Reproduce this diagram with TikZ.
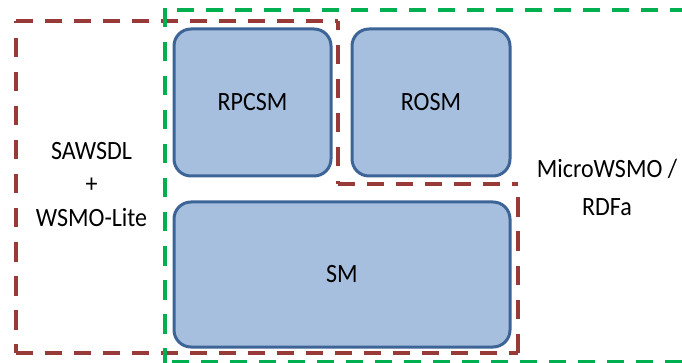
\documentclass[tikz,border=0pt]{standalone}
\usepackage{fontspec}
\setmainfont{Carlito}
\usepackage{graphicx}

\definecolor{boxfill}{HTML}{A7BFDE}
\definecolor{boxline}{HTML}{3D6496}
\definecolor{regred}{HTML}{983A38}
\definecolor{reggreen}{HTML}{00B050}

\tikzset{
  model/.style={draw=boxline, fill=boxfill, line width=3pt, rounded corners=17pt,
    inner sep=0pt, font=\fontsize{24}{28}\selectfont},
  hseg/.style={line width=4pt, dash pattern=on 17pt off 12pt},
  vseg/.style={line width=4pt, dash pattern=on 19.5pt off 14.5pt},
  sawsdl/.style={hseg, draw=regred},
  sawsdlv/.style={vseg, draw=regred},
  micro/.style={hseg, draw=reggreen},
  microv/.style={vseg, draw=reggreen},
  caption/.style={inner sep=0pt, align=center},
}

\begin{document}
\begin{tikzpicture}[x=1pt, y=-1pt]
\useasboundingbox (0,0) rectangle (682,363);

% service models
\node[model, minimum width=157pt, minimum height=147pt] (rpcsm) at (252.5,102.5)
  {\scalebox{1}[1.1]{RPCSM}};
\node[model, minimum width=158pt, minimum height=147pt] (rosm) at (431,102.5)
  {\scalebox{1}[1.1]{ROSM}};
\node[model, minimum width=336pt, minimum height=145pt] (sm) at (342,274.5)
  {\scalebox{1}[1.1]{SM}};

% corners of the SAWSDL + WSMO-Lite region
\coordinate (rA) at (16,21);
\coordinate (rB) at (338,21);
\coordinate (rC) at (338,184);
\coordinate (rD) at (518,184);
\coordinate (rE) at (518,353);
\coordinate (rF) at (16,353);

\draw[sawsdl]  (rA) -- (rB);
\draw[sawsdlv, dash phase=17] (rA) -- (rF);
\draw[sawsdl]  (rF) -- (rE);
\draw[sawsdlv] (rE) -- (rD);
\draw[sawsdl]  (rC) -- (rD);
\draw[sawsdlv, dash phase=10] (rB) -- (rC);

% corners of the MicroWSMO / RDFa region
\coordinate (gA) at (165,8);
\coordinate (gAh) at (177,10);
\coordinate (gB) at (700,10);
\coordinate (gC) at (165,370);
\coordinate (gDh) at (172,362);
\coordinate (gE) at (700,362);

\begin{scope}
\clip (0,0) rectangle (682,363);
\draw[micro]  (gAh) -- (gB);
\draw[microv] (gA) -- (gC);
\draw[micro]  (gDh) -- (gE);
\end{scope}

% region captions
\node[caption] (leftcap) at (91.5,186)
  {\scalebox{1}[1.1]{\fontsize{24}{30.5}\selectfont
   \begin{tabular}{@{}c@{}}SAWSDL\\+\\WSMO-Lite\end{tabular}}};
\node[caption] (rightcap) at (607,188.5)
  {\scalebox{1}[1.1]{\fontsize{24}{34.5}\selectfont
   \begin{tabular}{@{}c@{}}MicroWSMO /\\RDFa\end{tabular}}};
\end{tikzpicture}
\end{document}
